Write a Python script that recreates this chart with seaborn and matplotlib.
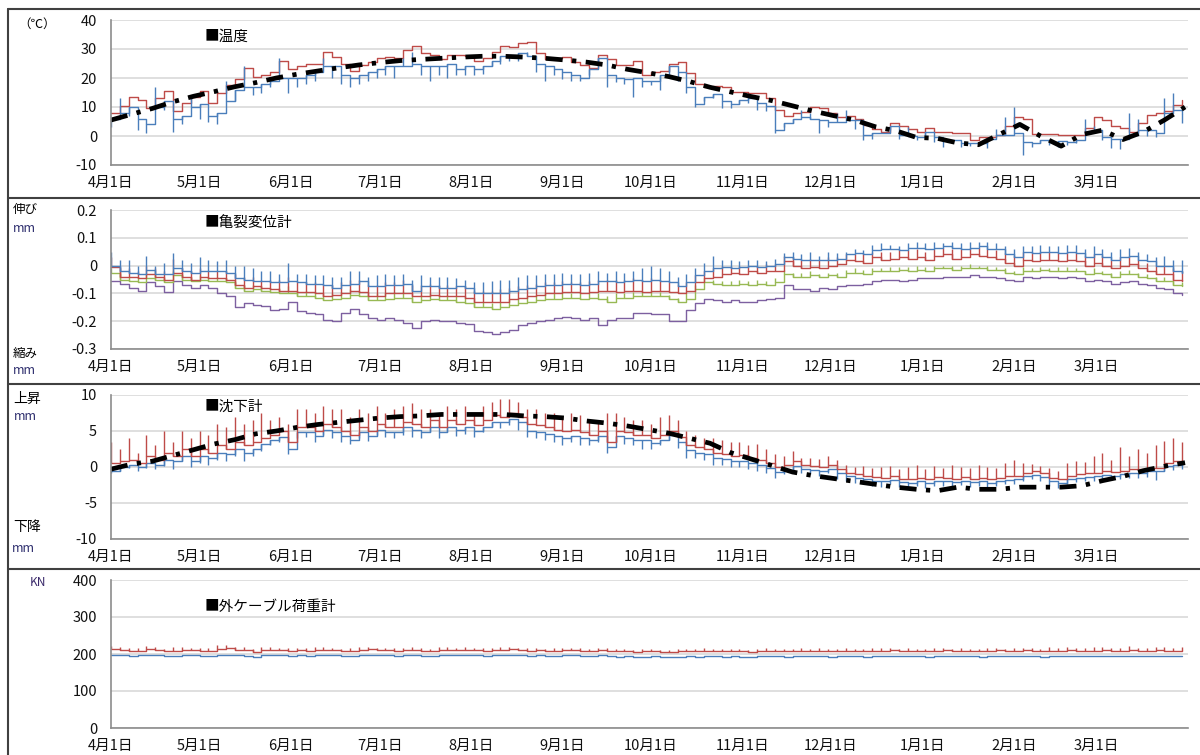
import matplotlib.pyplot as plt
import numpy as np
import pandas as pd
import seaborn as sns
from matplotlib.lines import Line2D

# ---- data (one value every 3 days from 4/1) ----
temp_max = [8, 10.5, 13.5, 12.4, 9.5, 13, 15.5, 8.5, 11.5, 13.5,
            15.5, 11.5, 14.8, 17.5, 19.5, 23.5, 20.3, 21.2, 22, 26,
            23, 24.2, 25, 25, 28.8, 27.2, 24.8, 22.5, 24.5, 25.5,
            26.8, 27.2, 27, 29.5, 31, 28.6, 27.8, 26.5, 28, 28,
            27.5, 26, 27, 29, 31, 30.8, 32, 32.4, 28.6, 26.6,
            27, 27.2, 25.5, 24.5, 23.5, 28, 26.5, 24.5, 24.5, 26,
            21, 22, 22.5, 25, 25.5, 21.7, 18, 16.8, 17.2, 17,
            15.2, 15.2, 14.8, 14.8, 13.2, 9, 6.8, 8, 8.4, 10,
            9.5, 7.9, 6.7, 7, 6, 3.8, 2.5, 1.5, 4.5, 3.4,
            2.4, 1.5, 2.8, 1.5, 1.5, 0.9, 0.9, -1.4, -0.2, -0.2,
            0.3, 3.4, 6.6, 6, 0.7, 0.7, 0.7, 0.5, 0.3, 0.3,
            2.8, 6.6, 5.5, 3.5, 2.8, 1.4, 4.5, 7.2, 7.9, 8.5,
            10.7, 12.4]
temp_min = [6, 8, 10, 6, 4, 10, 12, 6, 7, 10,
            11, 7, 8, 12, 16, 17, 17, 18, 19, 20,
            20, 20, 21, 22, 24, 24, 21, 20, 21, 22,
            23, 24, 24, 24, 25, 24, 24, 24, 25, 23,
            24, 23, 24, 26, 27.5, 28, 28.5, 27.5, 25, 24,
            23, 22, 21, 20, 23, 27, 21, 20, 19.5, 20,
            19, 19, 21, 24, 22, 17, 11, 13.4, 14.5, 12,
            11, 12.5, 13, 11.5, 10.5, 2, 4.5, 6, 6.5, 6,
            5.5, 5, 5, 5.5, 5.5, 0.5, 1, 1, 3.4, 0.5,
            0, -0.5, 1.4, -0.5, -1.4, -1.4, -2.5, -2.5, -2.5, -1,
            0.3, 0.5, 1, -2, -2.5, -1.4, -2, -1.8, -2, -1.5,
            1.4, 2, -0.5, -1, -1, 0.5, 2, 2, 1, 8,
            9, 7.5]
temp_min_peak = [3, 13, 7, 2, 1, 17, 9, 1.5, 4, 14,
                 6, 5, 4, 19, 12, 24, 14, 15, 17, 27,
                 15, 17, 18, 19, 27, 20, 18, 17, 18, 19,
                 20, 21, 20, 27, 29, 21, 19, 21, 20, 21,
                 21, 21, 21.5, 24, 25, 26, 26, 29, 22, 19,
                 21, 19.5, 19, 19, 21, 25, 17, 18.6, 18, 13.4,
                 17, 17.5, 15.8, 22, 19, 14.8, 10, 12, 13, 9.6,
                 9.6, 11, 11.5, 9, 8.5, 1, 3, 4.5, 9, 8,
                 1, 3, 8, 9, 2.5, -1.4, -1, 1, 2, -1,
                 3, -1.5, 0, -2, -3.7, -2.5, -3.7, -3.5, -3, -4,
                 2.5, 6.6, 10, -6.5, -3.7, -2.5, -3, -3.7, -3, -2.5,
                 6, 3.4, -1.4, -4, -4.5, 8, 6, 0, -0.5, 13,
                 15, 4.5]
# weekly mean temperature
temp_avg = [5.5, 7.5, 9.5, 11.8, 13.7, 15.3, 17, 18.4, 20, 21.3,
            22.4, 23.5, 24.5, 25.3, 26, 26.4, 26.8, 27.2, 27.5, 27.5,
            27.2, 26.8, 26.2, 25.5, 24.5, 23, 21.8, 20.5, 18.8, 16.8,
            15.2, 13.6, 12.2, 10.4, 8.6, 7, 5.5, 3.2, 1.8, -0.5,
            -0.8, -2.4, -3, 0.5, 4, 0, -3.5, 0.5, 2, -1.2,
            1.5, 5.5, 10]

crack_1 = [0.0, -0.02, -0.025, -0.03, -0.015, -0.03, -0.03, -0.01, -0.02, -0.025,
           -0.02, -0.02, -0.02, -0.025, -0.045, -0.05, -0.055, -0.055, -0.06, -0.06,
           -0.055, -0.06, -0.065, -0.065, -0.07, -0.08, -0.07, -0.065, -0.055, -0.075,
           -0.075, -0.07, -0.07, -0.065, -0.09, -0.075, -0.075, -0.08, -0.08, -0.075,
           -0.08, -0.1, -0.1, -0.1, -0.1, -0.09, -0.085, -0.08, -0.075, -0.07,
           -0.07, -0.065, -0.065, -0.07, -0.065, -0.055, -0.055, -0.06, -0.055, -0.05,
           -0.055, -0.05, -0.055, -0.06, -0.075, -0.06, -0.035, -0.02, -0.01, -0.005,
           -0.01, -0.005, 0.0, -0.005, 0.0, 0.005, 0.03, 0.025, 0.02, 0.02,
           0.02, 0.02, 0.025, 0.04, 0.045, 0.04, 0.055, 0.06, 0.06, 0.055,
           0.065, 0.065, 0.06, 0.065, 0.07, 0.065, 0.06, 0.065, 0.07, 0.06,
           0.06, 0.04, 0.03, 0.05, 0.045, 0.05, 0.05, 0.045, 0.05, 0.045,
           0.03, 0.04, 0.03, 0.02, 0.03, 0.035, 0.02, 0.015, 0.0, 0.0,
           -0.02, -0.025]
crack_1_peak = [0.05, 0.02, 0.02, 0.0, 0.035, 0.0, 0.01, 0.045, 0.02, 0.01,
                0.03, 0.02, 0.015, 0.02, 0.0, 0.0, -0.01, -0.02, -0.02, -0.03,
                0.01, -0.03, -0.03, -0.035, -0.035, -0.04, -0.04, -0.02, -0.02, -0.04,
                -0.035, -0.03, -0.035, -0.03, -0.05, -0.035, -0.04, -0.04, -0.04, -0.045,
                -0.05, -0.06, -0.06, -0.055, -0.05, -0.05, -0.04, -0.035, -0.035, -0.03,
                -0.03, -0.025, -0.03, -0.03, -0.025, -0.02, -0.025, -0.02, -0.025, -0.02,
                -0.01, 0.0, -0.01, -0.02, -0.04, -0.03, -0.01, 0.01, 0.035, 0.02,
                0.02, 0.015, 0.02, 0.02, 0.015, 0.025, 0.045, 0.05, 0.04, 0.05,
                0.035, 0.05, 0.045, 0.05, 0.06, 0.055, 0.075, 0.08, 0.075, 0.07,
                0.08, 0.085, 0.08, 0.085, 0.08, 0.085, 0.08, 0.085, 0.085, 0.085,
                0.08, 0.07, 0.06, 0.07, 0.07, 0.075, 0.07, 0.07, 0.075, 0.075,
                0.06, 0.07, 0.06, 0.05, 0.06, 0.065, 0.05, 0.04, 0.03, 0.035,
                0.02, 0.02]
crack_2 = [-0.005, -0.04, -0.04, -0.045, -0.03, -0.04, -0.05, -0.025, -0.04, -0.05,
           -0.04, -0.045, -0.045, -0.05, -0.07, -0.08, -0.075, -0.08, -0.085, -0.09,
           -0.09, -0.095, -0.095, -0.1, -0.11, -0.105, -0.1, -0.09, -0.095, -0.11,
           -0.11, -0.1, -0.1, -0.1, -0.11, -0.11, -0.105, -0.11, -0.11, -0.11,
           -0.115, -0.13, -0.13, -0.13, -0.13, -0.12, -0.115, -0.11, -0.105, -0.1,
           -0.1, -0.095, -0.095, -0.1, -0.095, -0.09, -0.09, -0.095, -0.09, -0.09,
           -0.095, -0.09, -0.09, -0.095, -0.1, -0.09, -0.06, -0.045, -0.04, -0.03,
           -0.025, -0.03, -0.02, -0.025, -0.02, -0.02, 0.015, 0.0, -0.01, -0.005,
           -0.01, 0.0, 0.005, 0.02, 0.015, 0.01, 0.03, 0.02, 0.025, 0.03,
           0.025, 0.03, 0.02, 0.035, 0.04, 0.025, 0.03, 0.04, 0.035, 0.03,
           0.025, 0.01, 0.0, 0.02, 0.015, 0.02, 0.02, 0.015, 0.02, 0.015,
           0.0, 0.01, 0.0, -0.01, 0.0, 0.005, -0.01, -0.02, -0.03, -0.03,
           -0.05, -0.055]
crack_2_peak = [0.03, -0.01, -0.01, -0.02, 0.0, -0.01, -0.02, 0.025, -0.01, -0.02,
                -0.01, -0.02, -0.02, -0.02, -0.03, -0.04, -0.04, -0.05, -0.05, -0.05,
                -0.04, -0.06, -0.06, -0.06, -0.07, -0.07, -0.06, -0.05, -0.05, -0.07,
                -0.07, -0.06, -0.06, -0.05, -0.07, -0.07, -0.065, -0.07, -0.07, -0.075,
                -0.075, -0.09, -0.09, -0.09, -0.085, -0.08, -0.075, -0.07, -0.065, -0.06,
                -0.06, -0.055, -0.06, -0.06, -0.055, -0.05, -0.05, -0.05, -0.05, -0.045,
                -0.05, -0.045, -0.05, -0.06, -0.07, -0.06, -0.035, -0.02, -0.01, 0.0,
                0.0, 0.0, 0.0, 0.0, 0.005, 0.005, 0.035, 0.03, 0.02, 0.025,
                0.02, 0.03, 0.03, 0.04, 0.04, 0.04, 0.05, 0.05, 0.05, 0.055,
                0.055, 0.06, 0.05, 0.06, 0.065, 0.06, 0.06, 0.065, 0.065, 0.06,
                0.055, 0.045, 0.035, 0.05, 0.045, 0.05, 0.05, 0.045, 0.05, 0.045,
                0.035, 0.04, 0.035, 0.02, 0.03, 0.035, 0.02, 0.01, 0.0, 0.0,
                -0.01, -0.02]
crack_3 = [-0.025, -0.05, -0.055, -0.06, -0.045, -0.05, -0.06, -0.035, -0.05, -0.055,
           -0.05, -0.055, -0.055, -0.06, -0.08, -0.09, -0.085, -0.09, -0.095, -0.1,
           -0.1, -0.11, -0.11, -0.115, -0.125, -0.12, -0.115, -0.105, -0.11, -0.125,
           -0.125, -0.12, -0.115, -0.115, -0.13, -0.125, -0.12, -0.125, -0.125, -0.13,
           -0.135, -0.15, -0.15, -0.155, -0.15, -0.14, -0.135, -0.13, -0.125, -0.12,
           -0.12, -0.115, -0.115, -0.12, -0.115, -0.12, -0.13, -0.115, -0.115, -0.11,
           -0.11, -0.11, -0.11, -0.12, -0.13, -0.12, -0.085, -0.06, -0.065, -0.07,
           -0.07, -0.065, -0.07, -0.065, -0.07, -0.06, -0.03, -0.04, -0.04, -0.035,
           -0.04, -0.035, -0.04, -0.025, -0.025, -0.03, -0.02, -0.02, -0.02, -0.015,
           -0.02, -0.015, -0.02, -0.01, -0.01, -0.015, -0.01, -0.01, -0.01, -0.015,
           -0.015, -0.025, -0.03, -0.02, -0.02, -0.015, -0.02, -0.02, -0.02, -0.02,
           -0.03, -0.025, -0.03, -0.04, -0.03, -0.03, -0.04, -0.045, -0.055, -0.055,
           -0.07, -0.075]
crack_3_peak = [-0.01, -0.03, -0.04, -0.04, -0.03, -0.035, -0.045, -0.02, -0.035, -0.04,
                -0.035, -0.04, -0.04, -0.045, -0.06, -0.07, -0.07, -0.075, -0.08, -0.08,
                -0.075, -0.09, -0.09, -0.095, -0.105, -0.1, -0.095, -0.085, -0.09, -0.105,
                -0.1, -0.1, -0.095, -0.09, -0.11, -0.105, -0.1, -0.105, -0.105, -0.11,
                -0.115, -0.13, -0.13, -0.135, -0.13, -0.12, -0.115, -0.11, -0.105, -0.1,
                -0.1, -0.095, -0.1, -0.1, -0.1, -0.1, -0.11, -0.1, -0.1, -0.095,
                -0.095, -0.09, -0.095, -0.105, -0.115, -0.1, -0.07, -0.045, -0.05, -0.055,
                -0.055, -0.05, -0.055, -0.05, -0.055, -0.045, -0.015, -0.025, -0.025, -0.02,
                -0.03, -0.025, -0.025, -0.015, -0.01, -0.015, -0.01, -0.01, -0.005, -0.005,
                -0.005, 0.0, -0.005, 0.0, 0.0, 0.0, 0.0, 0.005, 0.0, 0.0,
                -0.005, -0.01, -0.02, -0.005, -0.01, -0.005, -0.01, -0.005, -0.005, -0.01,
                -0.02, -0.01, -0.02, -0.025, -0.02, -0.015, -0.025, -0.03, -0.04, -0.04,
                -0.055, -0.06]
crack_4 = [-0.055, -0.065, -0.08, -0.09, -0.06, -0.075, -0.095, -0.055, -0.07, -0.08,
           -0.07, -0.08, -0.1, -0.11, -0.15, -0.135, -0.14, -0.145, -0.16, -0.155,
           -0.13, -0.165, -0.17, -0.175, -0.195, -0.2, -0.17, -0.155, -0.175, -0.19,
           -0.195, -0.19, -0.195, -0.205, -0.225, -0.2, -0.195, -0.2, -0.2, -0.205,
           -0.21, -0.235, -0.24, -0.245, -0.24, -0.23, -0.215, -0.205, -0.2, -0.195,
           -0.19, -0.185, -0.19, -0.195, -0.19, -0.215, -0.195, -0.19, -0.19, -0.17,
           -0.17, -0.175, -0.175, -0.2, -0.2, -0.16, -0.135, -0.12, -0.125, -0.13,
           -0.125, -0.13, -0.13, -0.125, -0.12, -0.115, -0.07, -0.085, -0.085, -0.09,
           -0.08, -0.085, -0.075, -0.07, -0.07, -0.065, -0.055, -0.05, -0.05, -0.055,
           -0.05, -0.045, -0.045, -0.045, -0.04, -0.04, -0.04, -0.035, -0.04, -0.04,
           -0.045, -0.05, -0.055, -0.04, -0.045, -0.04, -0.04, -0.045, -0.04, -0.045,
           -0.055, -0.05, -0.055, -0.065, -0.06, -0.055, -0.065, -0.07, -0.08, -0.085,
           -0.1, -0.105]

settle_up = [0.5, 0.8, 1.0, 0.5, 1.5, 1.0, 2.0, 1.5, 2.5, 1.5,
             2.5, 2.0, 3.0, 2.5, 3.5, 3.0, 3.5, 4.0, 4.5, 5.0,
             3.5, 5.5, 5.5, 5.0, 6.0, 5.5, 5.0, 4.5, 5.5, 5.0,
             6.0, 5.5, 5.5, 6.2, 6.0, 5.5, 6.5, 5.5, 6.5, 6.0,
             6.5, 5.8, 6.5, 7.2, 7.0, 7.5, 7.0, 6.0, 5.8, 5.5,
             5.2, 5.0, 5.2, 4.8, 4.5, 5.0, 3.5, 5.0, 4.8, 4.5,
             4.5, 4.0, 4.5, 5.0, 4.2, 3.0, 2.8, 2.5, 2.0, 1.8,
             1.5, 1.6, 1.2, 1.0, 0.6, 0.0, 0.3, 0.8, 0.3, 0.2,
             0.0, 0.3, -0.3, -0.8, -1.0, -1.2, -1.4, -1.5, -1.3, -1.6,
             -1.7, -1.5, -1.7, -1.4, -1.5, -1.6, -1.4, -1.6, -1.5, -1.7,
             -1.5, -1.3, -1.2, -0.8, -0.6, -0.9, -1.5, -1.7, -1.2, -1.0,
             -0.9, -0.8, -0.6, -0.7, -0.5, -0.3, -0.3, -0.1, -0.1, 0.6,
             0.8, 0.9]
settle_up_peak = [3.5, 2.5, 4.0, 2.0, 4.5, 3.0, 5.0, 3.5, 5.0, 4.0,
                  5.0, 4.5, 6.0, 5.5, 7.0, 6.0, 6.5, 7.5, 6.5, 7.0,
                  6.0, 8.0, 8.0, 7.5, 8.5, 8.0, 8.0, 7.0, 8.0, 7.5,
                  8.5, 7.5, 8.0, 8.5, 8.9, 8.0, 8.0, 7.5, 8.5, 8.0,
                  8.5, 7.5, 8.5, 9.0, 9.5, 9.5, 9.0, 8.0, 8.0, 7.5,
                  7.5, 7.0, 7.5, 7.2, 6.5, 6.5, 7.5, 7.5, 7.0, 6.5,
                  6.5, 6.0, 7.0, 7.2, 6.5, 5.0, 4.5, 4.0, 4.0, 3.8,
                  3.5, 3.5, 3.0, 3.2, 2.5, 1.8, 1.5, 2.2, 1.3, 1.3,
                  1.1, 1.5, 1.0, 0.3, 0.0, 0.2, -0.2, 0.0, 0.2, -0.3,
                  0.0, 0.3, -0.3, 0.2, -0.1, 0.3, 0.0, -0.2, 0.3, 0.0,
                  -0.1, 0.5, 1.0, 0.6, 0.4, 0.2, -0.2, -0.5, 0.5, 0.8,
                  0.7, 1.5, 2.0, 1.0, 2.8, 1.5, 2.5, 2.0, 3.0, 3.6,
                  4.0, 3.5]
settle_down = [-0.5, 0.0, 0.3, 0.0, 0.5, 0.3, 1.0, 0.8, 1.5, 0.8,
               1.5, 1.2, 2.0, 1.8, 2.5, 2.0, 2.5, 3.2, 3.8, 4.2,
               2.5, 4.8, 4.8, 4.3, 5.2, 4.8, 4.3, 3.8, 4.8, 4.3,
               5.2, 4.8, 4.8, 5.5, 5.2, 4.8, 5.6, 4.8, 5.6, 5.2,
               5.6, 5.0, 5.6, 6.3, 6.2, 6.6, 6.2, 5.0, 4.8, 4.6,
               4.3, 4.0, 4.3, 4.0, 3.8, 4.3, 2.8, 4.3, 4.0, 3.8,
               3.7, 3.3, 3.8, 4.4, 3.5, 2.3, 2.0, 1.8, 1.3, 1.1,
               0.8, 0.9, 0.5, 0.3, -0.1, -0.7, -0.4, 0.1, -0.3, -0.4,
               -0.6, -0.3, -0.9, -1.3, -1.5, -1.7, -1.9, -2.0, -1.8, -2.1,
               -2.2, -2.0, -2.2, -1.9, -2.0, -2.1, -1.9, -2.1, -2.0, -2.2,
               -2.0, -1.8, -1.7, -1.3, -1.1, -1.4, -2.0, -2.2, -1.7, -1.5,
               -1.4, -1.3, -1.1, -1.2, -1.0, -0.8, -0.8, -0.6, -0.6, 0.1,
               0.3, 0.4]
settle_down_peak = [-0.8, -0.5, -0.2, -0.5, -0.2, -0.3, 0.2, -0.3, 0.8, 0.0,
                    0.5, 0.3, 1.0, 0.8, 1.5, 0.8, 1.5, 2.2, 3.0, 3.5,
                    1.8, 4.0, 4.2, 3.5, 4.5, 4.0, 3.5, 3.2, 4.0, 3.6,
                    4.5, 4.2, 4.0, 4.5, 4.2, 4.0, 4.8, 4.0, 4.8, 4.3,
                    4.6, 4.2, 4.8, 5.5, 5.4, 5.8, 5.2, 4.2, 4.0, 3.8,
                    3.5, 3.0, 3.5, 3.0, 3.0, 3.5, 2.0, 3.5, 3.2, 3.0,
                    2.5, 2.5, 3.0, 3.7, 2.7, 1.3, 1.2, 1.0, 0.3, 0.3,
                    0.0, 0.0, -0.3, -0.5, -0.9, -1.5, -1.0, -0.7, -0.9, -1.0,
                    -1.2, -0.9, -1.6, -2.0, -2.2, -2.4, -2.6, -2.8, -2.4, -2.8,
                    -2.9, -2.6, -2.9, -2.6, -2.7, -2.8, -2.5, -2.8, -2.6, -2.9,
                    -2.6, -2.4, -2.3, -1.9, -1.7, -2.0, -2.6, -2.9, -2.3, -2.1,
                    -2.0, -1.9, -1.8, -1.8, -1.7, -1.5, -1.5, -1.4, -1.8, -0.6,
                    -0.4, -0.3]
# weekly mean settlement
settle_avg = [-0.3, 0.4, 0.8, 1.6, 2.4, 3.2, 3.8, 4.6, 5.0, 5.5,
              5.9, 6.2, 6.5, 6.8, 7.0, 7.1, 7.3, 7.3, 7.3, 7.3,
              7.1, 7.0, 6.8, 6.4, 6.1, 5.7, 5.2, 4.7, 4.0, 3.3,
              2.0, 1.1, 0.2, -0.7, -1.2, -1.6, -2.0, -2.4, -2.8, -3.1,
              -3.3, -2.8, -3.1, -3.1, -2.8, -2.8, -2.8, -2.6, -1.9, -1.3,
              -0.5, 0.1, 0.6]

cable_a = [214, 212, 209, 209, 214, 212, 207, 208, 212, 210,
           209, 208, 214, 215, 212, 210, 206, 211, 212, 211,
           209, 210, 209, 211, 212, 210, 208, 209, 212, 213,
           211, 210, 209, 210, 211, 209, 208, 211, 212, 210,
           212, 211, 209, 210, 212, 213, 211, 209, 210, 208,
           209, 210, 211, 209, 208, 210, 209, 207, 208, 206,
           207, 208, 206, 205, 207, 208, 207, 209, 208, 207,
           208, 207, 206, 208, 209, 208, 207, 208, 209, 208,
           209, 207, 208, 209, 208, 207, 208, 209, 210, 208,
           209, 208, 207, 209, 210, 208, 209, 208, 207, 209,
           210, 208, 209, 210, 208, 207, 209, 208, 210, 209,
           208, 209, 210, 209, 208, 210, 209, 208, 210, 209,
           208, 210]
cable_a_peak = [222, 218, 216, 217, 222, 219, 214, 218, 220, 217,
                215, 216, 224, 223, 219, 218, 213, 219, 218, 217,
                217, 216, 215, 219, 218, 217, 214, 215, 218, 220,
                217, 216, 215, 217, 218, 215, 214, 218, 219, 216,
                218, 217, 215, 216, 219, 220, 217, 215, 216, 214,
                215, 216, 217, 215, 214, 216, 215, 213, 214, 212,
                213, 214, 212, 211, 213, 214, 213, 215, 214, 213,
                214, 213, 212, 214, 215, 214, 213, 214, 216, 214,
                216, 213, 214, 216, 214, 213, 215, 216, 217, 214,
                215, 214, 213, 216, 217, 214, 216, 214, 213, 216,
                217, 214, 216, 217, 215, 213, 218, 215, 219, 216,
                215, 219, 220, 216, 215, 221, 217, 215, 220, 218,
                216, 219]
cable_b = [197, 196, 195, 196, 198, 196, 194, 195, 197, 196,
           195, 195, 198, 198, 196, 195, 192, 196, 197, 196,
           195, 196, 195, 197, 197, 196, 194, 195, 197, 198,
           196, 196, 195, 196, 197, 195, 194, 196, 197, 196,
           197, 196, 195, 196, 197, 198, 196, 195, 196, 194,
           195, 196, 196, 195, 194, 196, 195, 193, 194, 192,
           193, 194, 192, 191, 193, 194, 193, 194, 194, 193,
           194, 193, 192, 194, 195, 194, 193, 194, 195, 194,
           195, 193, 194, 195, 194, 193, 194, 195, 195, 194,
           195, 194, 193, 195, 195, 194, 195, 194, 193, 195,
           195, 194, 195, 195, 194, 193, 195, 194, 195, 195,
           194, 195, 195, 195, 194, 195, 195, 194, 195, 195,
           194, 195]

days = pd.date_range("2013-04-01", periods=122, freq="3D")
weeks = pd.date_range("2013-04-01", periods=53, freq="7D")
months = pd.date_range("2013-04-01", "2014-04-01", freq="MS")
month_labels = [f"{d.month}月1日" for d in months[:-1]] + [""]

BLUE = "#4A7EBB"
RED = "#BE4B48"
GREEN = "#98B954"
PURPLE = "#7D60A0"
DASH = (0, (3.6, 2.0, 0.9, 2.0))

sns.set_style("white")
plt.rcParams["font.family"] = ["Noto Sans CJK JP", "DejaVu Sans"]

W, H = 1200, 755
fig = plt.figure(figsize=(W / 100, H / 100), dpi=100)


def make_ax(top, bottom, ylim, yticks, ylabels):
    ax = fig.add_axes([111 / W, 1 - bottom / H, 1077 / W, (bottom - top) / H])
    ax.set_xlim(pd.Timestamp("2013-04-01"), pd.Timestamp("2014-04-01"))
    ax.set_ylim(*ylim)
    ax.set_yticks(yticks)
    ax.set_yticklabels(ylabels)
    ax.grid(axis="y", color="#D9D9D9", lw=1.2)
    ax.set_axisbelow(True)
    for s in ["top", "right"]:
        ax.spines[s].set_visible(False)
    for s in ["left", "bottom"]:
        ax.spines[s].set_color("#8C8C8C")
        ax.spines[s].set_linewidth(1.2)
    ax.tick_params(direction="out", length=5, width=1, color="#8C8C8C",
                   labelsize=10.5, labelcolor="#111111")
    ax.tick_params(axis="y", pad=5)
    ax.tick_params(axis="x", pad=3)
    return ax


def steps(ax, y, color):
    sns.lineplot(x=days, y=y, ax=ax, color=color, lw=1.0, drawstyle="steps-post")


def spikes(ax, base, peak, color):
    ax.vlines(days, base, peak, colors=color, lw=1.0)


def finish(ax):
    ax.set_xticks(months)
    ax.set_xticklabels(month_labels)
    ax.set_xlabel("")
    ax.set_ylabel("")


# panel 1: temperature
ax1 = make_ax(20, 165, (-10, 40), range(-10, 41, 10), [str(v) for v in range(-10, 41, 10)])
steps(ax1, temp_max, RED)
steps(ax1, temp_min, BLUE)
spikes(ax1, temp_min, temp_min_peak, BLUE)
sns.lineplot(x=weeks, y=temp_avg, ax=ax1, color="black", lw=3.4, linestyle=DASH)
finish(ax1)

# panel 2: crack gauges
ax2 = make_ax(210, 349, (-0.3, 0.2), [-0.3, -0.2, -0.1, 0, 0.1, 0.2],
              ["-0.3", "-0.2", "-0.1", "0", "0.1", "0.2"])
steps(ax2, crack_4, PURPLE)
steps(ax2, crack_3, GREEN)
spikes(ax2, crack_3, crack_3_peak, GREEN)
steps(ax2, crack_2, RED)
spikes(ax2, crack_2, crack_2_peak, RED)
steps(ax2, crack_1, BLUE)
spikes(ax2, crack_1, crack_1_peak, BLUE)
finish(ax2)

# panel 3: settlement
ax3 = make_ax(395, 539, (-10, 10), range(-10, 11, 5), [str(v) for v in range(-10, 11, 5)])
steps(ax3, settle_down, BLUE)
spikes(ax3, settle_down, settle_down_peak, BLUE)
steps(ax3, settle_up, RED)
spikes(ax3, settle_up, settle_up_peak, RED)
sns.lineplot(x=weeks, y=settle_avg, ax=ax3, color="black", lw=3.4, linestyle=DASH)
finish(ax3)

# panel 4: external cable load
ax4 = make_ax(580, 728, (0, 400), range(0, 401, 100), [str(v) for v in range(0, 401, 100)])
steps(ax4, cable_b, BLUE)
steps(ax4, cable_a, RED)
spikes(ax4, cable_a, cable_a_peak, RED)
finish(ax4)


def ftext(x, y, s, size=10, color="black", ha="left"):
    fig.text(x / W, 1 - y / H, s, fontsize=size, color=color, ha=ha, va="center")


ftext(205, 37, "■温度", 10.5)
ftext(205, 223, "■亀裂変位計", 10.5)
ftext(205, 407, "■沈下計", 10.5)
ftext(205, 607, "■外ケーブル荷重計", 10.5)

ftext(37, 24, "（℃）", 9, ha="center")
ftext(13, 210, "伸び", 9)
ftext(13, 228, "mm", 9, "#2E2E6E")
ftext(13, 353, "縮み", 9)
ftext(13, 371, "mm", 9, "#2E2E6E")
ftext(13, 399, "上昇", 10)
ftext(14, 416, "mm", 9, "#2E2E6E")
ftext(13, 527, "下降", 10)
ftext(12, 549, "mm", 9, "#2E2E6E")
ftext(30, 583, "KN", 8.5, "#3B2A6B")

# panel frames
FRAME = "#404040"
for y in [9, 198, 384, 569]:
    fig.add_artist(Line2D([8 / W, 1], [1 - y / H, 1 - y / H], color=FRAME, lw=1.5))
fig.add_artist(Line2D([8 / W, 8 / W], [0, 1 - 9 / H], color=FRAME, lw=1.5))

fig.savefig("out.png", dpi=100)
